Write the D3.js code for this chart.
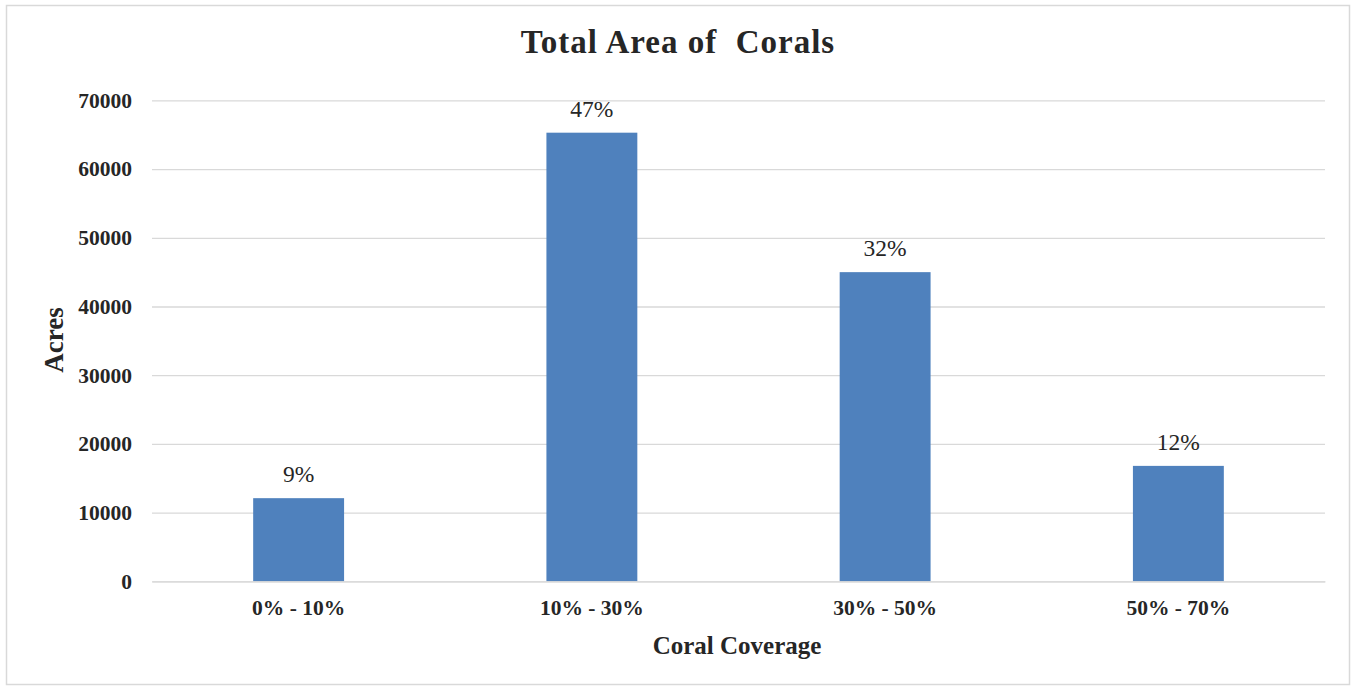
<!DOCTYPE html>
<html>
<head>
<meta charset="utf-8">
<script src="https://cdn.jsdelivr.net/npm/d3@7"></script>
<style>
  html, body { margin: 0; padding: 0; background: #fff; }
  svg text { font-family: "Liberation Serif", "Times New Roman", serif; fill: #262626; }
</style>
</head>
<body>
<svg id="chart" width="1352" height="691"></svg>
<script>
// Coral coverage bins and the area (acres) each covers
const categories = ["0% - 10%", "10% - 30%", "30% - 50%", "50% - 70%"];
const acres = [12100, 65300, 45000, 16800];
const shareLabels = ["9%", "47%", "32%", "12%"];
const yTicks = [0, 10000, 20000, 30000, 40000, 50000, 60000, 70000];

const svg = d3.select("#chart");

// outer frame
svg.append("rect")
  .attr("x", 6.5).attr("y", 5.5)
  .attr("width", 1343).attr("height", 679)
  .attr("fill", "#fff").attr("stroke", "#d9d9d9").attr("stroke-width", 1.5);

const plot = { left: 152, right: 1325, top: 100.4, bottom: 581.3 };

const x = d3.scaleBand()
  .domain(categories)
  .range([plot.left, plot.right])
  .paddingInner(0.69)
  .paddingOuter(0.345);

const y = d3.scaleLinear()
  .domain([0, 70000])
  .range([plot.bottom, plot.top]);

// horizontal gridlines
svg.append("g")
  .attr("transform", `translate(${plot.left},0)`)
  .call(d3.axisLeft(y).tickValues(yTicks).tickSize(-(plot.right - plot.left)).tickFormat(""))
  .call(g => g.select(".domain").remove())
  .call(g => g.selectAll("line").attr("stroke", "#d9d9d9").attr("stroke-width", 1.3));

// y tick labels
svg.append("g")
  .attr("transform", `translate(${plot.left},0)`)
  .call(d3.axisLeft(y).tickValues(yTicks).tickSize(0).tickPadding(20).tickFormat(d3.format("d")))
  .call(g => g.select(".domain").remove())
  .call(g => g.selectAll("text")
    .attr("font-size", 21.5).attr("font-weight", "bold")
    .attr("font-family", "Liberation Serif, serif").attr("fill", "#262626"));

// bars
svg.append("g").selectAll("rect")
  .data(categories)
  .join("rect")
  .attr("x", d => x(d))
  .attr("width", x.bandwidth())
  .attr("y", (d, i) => y(acres[i]))
  .attr("height", (d, i) => y(0) - y(acres[i]))
  .attr("fill", "#4f81bd");

// share labels above bars
svg.append("g").selectAll("text")
  .data(categories)
  .join("text")
  .attr("x", d => x(d) + x.bandwidth() / 2)
  .attr("y", (d, i) => y(acres[i]) - 16)
  .attr("text-anchor", "middle")
  .attr("font-size", 23.5)
  .text((d, i) => shareLabels[i]);

// x tick labels
svg.append("g")
  .attr("transform", `translate(0,${plot.bottom})`)
  .call(d3.axisBottom(x).tickSize(0).tickPadding(18))
  .call(g => g.select(".domain").attr("stroke", "#d9d9d9").attr("stroke-width", 1.3))
  .call(g => g.selectAll("text")
    .attr("font-size", 21.5).attr("font-weight", "bold")
    .attr("font-family", "Liberation Serif, serif").attr("fill", "#262626"));

// title
svg.append("text")
  .attr("x", 678).attr("y", 53)
  .attr("text-anchor", "middle")
  .attr("font-size", 33).attr("font-weight", "bold")
  .attr("letter-spacing", 1)
  .attr("xml:space", "preserve")
  .text("Total Area of  Corals");

// axis titles
svg.append("text")
  .attr("x", 737).attr("y", 654)
  .attr("text-anchor", "middle")
  .attr("font-size", 25).attr("font-weight", "bold")
  .text("Coral Coverage");

svg.append("text")
  .attr("transform", "translate(63,340) rotate(-90)")
  .attr("text-anchor", "middle")
  .attr("font-size", 27).attr("font-weight", "bold")
  .text("Acres");
</script>
</body>
</html>
